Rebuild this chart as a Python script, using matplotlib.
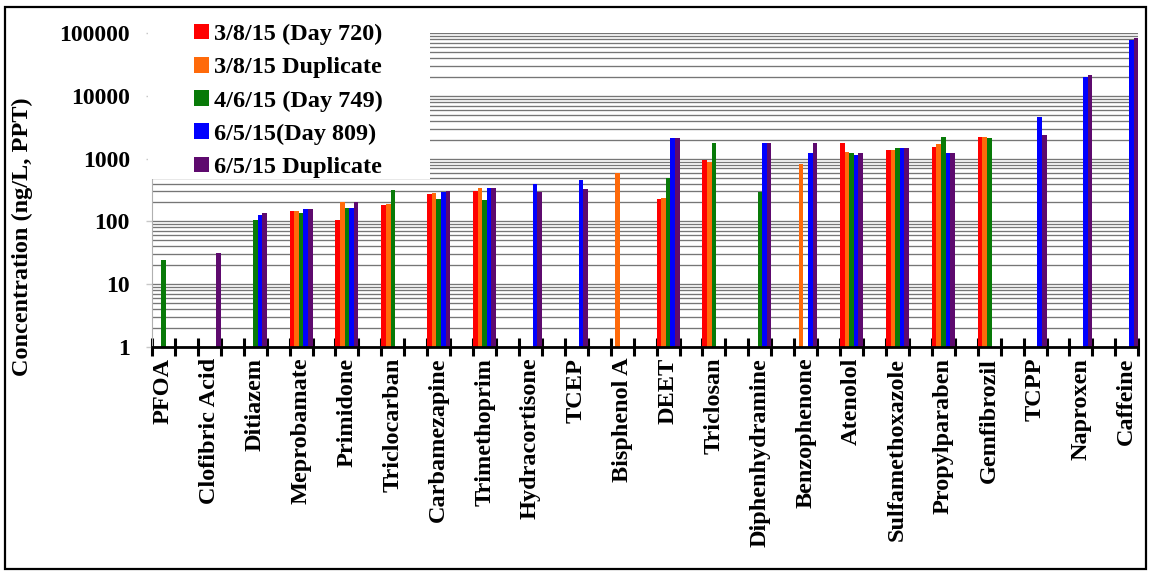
import numpy as np
import matplotlib
matplotlib.use("Agg")
import matplotlib.pyplot as plt
from matplotlib.patches import Rectangle, Patch
from matplotlib.ticker import FixedLocator, LogLocator, NullFormatter

nan = np.nan

compounds = ["PFOA", "Clofibric Acid", "Ditiazem", "Meprobamate", "Primidone",
             "Triclocarban", "Carbamezapine", "Trimethoprim", "Hydracortisone",
             "TCEP", "Bisphenol A", "DEET", "Triclosan", "Diphenhydramine",
             "Benzophenone", "Atenolol", "Sulfamethoxazole", "Propylparaben",
             "Gemfibrozil", "TCPP", "Naproxen", "Caffeine"]

series_names = ["3/8/15 (Day 720)", "3/8/15 Duplicate", "4/6/15 (Day 749)",
                "6/5/15(Day 809)", "6/5/15 Duplicate"]

day720 = [nan, nan, nan, 145, 105, 185, 275, 310, nan, nan, nan,
          230, 950, nan, nan, 1750, 1350, 1550, 2200, nan, nan, nan]
day720_dup = [nan, nan, nan, 145, 205, 190, 285, 335, nan, nan, 580,
              235, 880, nan, 820, 1300, 1400, 1700, 2200, nan, nan, nan]
day749 = [24, nan, 105, 135, 165, 315, 230, 220, nan, nan, nan,
          490, 1750, 290, nan, 1250, 1500, 2200, 2150, nan, nan, nan]
day809 = [nan, nan, 125, 158, 165, nan, 295, 345, 390, 460, nan,
          2100, nan, 1750, 1250, 1150, 1500, 1250, nan, 4600, 20000, 78000]
day809_dup = [nan, 31, 135, 158, 200, nan, 305, 345, 290, 330, nan,
              2100, nan, 1750, 1750, 1250, 1500, 1250, nan, 2400, 22000, 85000]

ytick_values = [1, 10, 100, 1000, 10000, 100000]
ytick_labels = ["1", "10", "100", "1000", "10000", "100000"]

colors = ["#FF0000", "#FF6A0A", "#087A08", "#0000FF", "#5E0A6E"]
all_series = [day720, day720_dup, day749, day809, day809_dup]

serif = ["Liberation Serif", "DejaVu Serif"]
plt.rcParams["font.family"] = serif
plt.rcParams["font.weight"] = "bold"

W, H = 1149, 573
fig = plt.figure(figsize=(W / 100, H / 100), dpi=100)
ax = fig.add_axes([152 / W, 1 - 346.7 / H, (1138.3 - 152) / W, (346.7 - 33.3) / H])

ax.set_yscale("log")
n = len(compounds)
pos = np.arange(n) * 2.0
nser = len(all_series)
bw = 1.0 / nser
for k, (vals, col, name) in enumerate(zip(all_series, colors, series_names)):
    off = (k - (nser - 1) / 2) * bw
    ax.bar(pos + off, vals, width=bw, color=col, edgecolor="none", zorder=3,
           label=name)

ax.set_xlim(-0.5, pos[-1] + 0.5)
ax.set_ylim(1, 100000)

# y axis
ax.yaxis.set_major_locator(FixedLocator(ytick_values))
ax.set_yticklabels(ytick_labels, fontsize=17, fontweight="bold")
ax.yaxis.set_minor_locator(LogLocator(base=10, subs=np.arange(2, 10)))
ax.yaxis.set_minor_formatter(NullFormatter())
ax.tick_params(axis="y", which="major", length=4, width=1, color="#c8c8c8",
               direction="out", pad=12)
ax.tick_params(axis="y", which="minor", length=0)
ax.set_axisbelow(True)
ax.grid(axis="y", which="both", color="#767676", linewidth=0.95)

# x axis
ax.set_xticks(pos)
ax.set_xticklabels(compounds, rotation=90, fontsize=17.5, fontweight="bold",
                   va="top", ha="center")
ax.set_xticks(np.arange(-0.5, pos[-1] + 1.0, 1.0), minor=True)
ax.tick_params(axis="x", which="major", length=0, pad=8)
ax.tick_params(axis="x", which="minor", length=13, width=2.2, color="black",
               direction="inout")

for s in ["top", "right"]:
    ax.spines[s].set_visible(False)
ax.spines["left"].set_color("#b0b0b0")
ax.spines["left"].set_linewidth(0.8)
ax.spines["bottom"].set_color("black")
ax.spines["bottom"].set_linewidth(2.0)
ax.spines["bottom"].set_zorder(4)

# white backing behind the legend (hides gridlines and the left spine)
ax.add_patch(Rectangle((-0.004, 0.535), (430 - 152) / (1138.3 - 152) + 0.004, 0.6,
                       transform=ax.transAxes, facecolor="white",
                       edgecolor="none", zorder=2.7, clip_on=False))

handles = [Patch(facecolor=c, edgecolor="none") for c in colors]
leg = ax.legend(handles, series_names, loc="upper left",
                bbox_to_anchor=(0.043, 1.03), frameon=False,
                prop={"family": serif, "weight": "bold", "size": 17.5},
                handlelength=0.58, handleheight=0.6, handletextpad=0.22,
                labelspacing=0.49, borderaxespad=0, borderpad=0)
leg.set_zorder(5)

fig.text(22 / W, 1 - 237 / H, "Concentration (ng/L, PPT)", rotation=90,
         ha="center", va="center", fontsize=17.5, fontweight="bold")

# outer frame
fig.patches.append(Rectangle((5 / W, 1 - 569 / H), (1146 - 5) / W, (569 - 7) / H,
                             transform=fig.transFigure, fill=False,
                             edgecolor="black", linewidth=1.6))

fig.savefig("out.png", dpi=100, facecolor="white")
